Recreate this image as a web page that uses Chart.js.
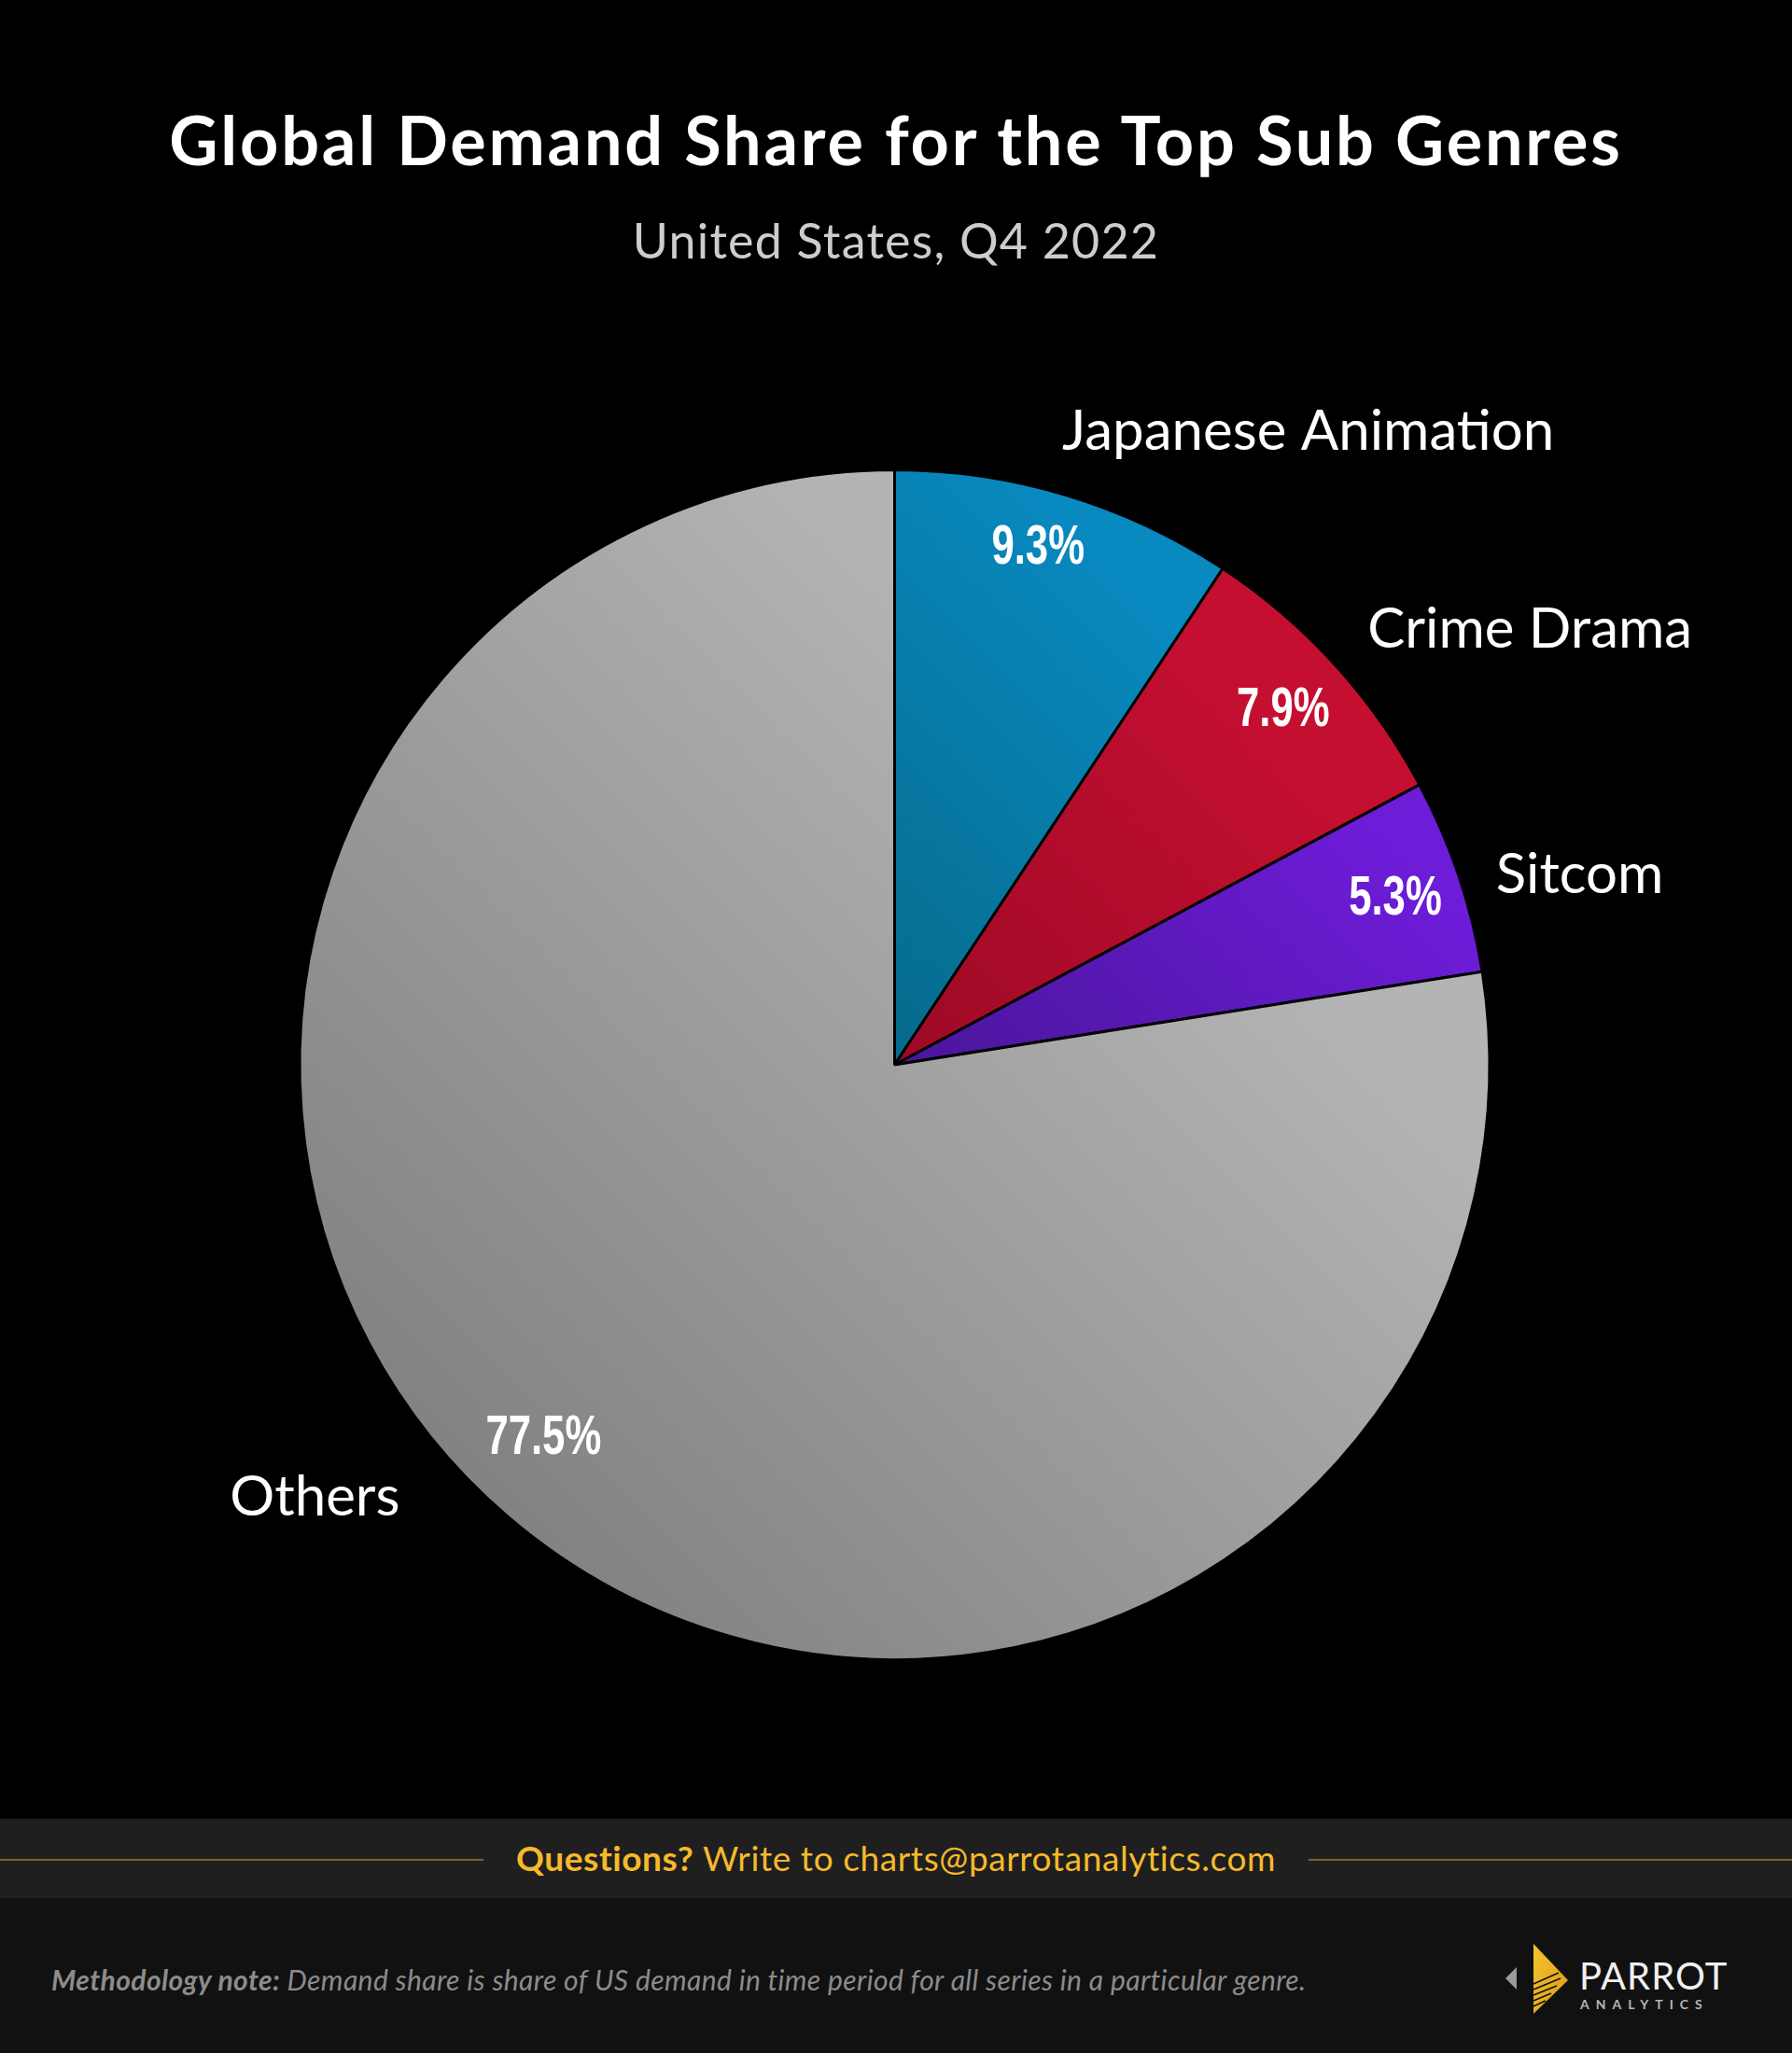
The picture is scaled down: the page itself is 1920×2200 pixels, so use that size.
<!DOCTYPE html>
<html>
<head>
<meta charset="utf-8">
<script src="https://cdn.jsdelivr.net/npm/chart.js@4.4.0/dist/chart.umd.min.js"></script>
<style>
  html, body { margin: 0; padding: 0; background: #000; }
  body { width: 1920px; height: 2200px; position: relative; overflow: hidden; font-family: Lato, "Open Sans", sans-serif; }
  #chartWrap { position: absolute; left: 0; top: 0; width: 1920px; height: 1949px; }
  #title { position: absolute; left: 0; width: 1920px; top: 104px; text-align: center; color: #fff; font-weight: 700; font-size: 72px; line-height: 90px; letter-spacing: 2.8px; }
  #subtitle { position: absolute; left: 0; width: 1920px; top: 226px; text-align: center; color: #cdcdcd; font-size: 52px; line-height: 62px; letter-spacing: 1.2px; }
  #band { position: absolute; left: 0; top: 1949px; width: 1920px; height: 85px; background: #1f1f1f; }
  .gline { position: absolute; top: 43px; height: 2px; background: #7a6228; }
  #q { position: absolute; left: 0; width: 1920px; top: 19px; text-align: center; color: #f6b92b; font-size: 37px; line-height: 46px; letter-spacing: 0.6px; }
  #bottom { position: absolute; left: 0; top: 2034px; width: 1920px; height: 166px; background: #111; }
  #note { position: absolute; left: 55px; top: 68px; color: #8c8c8c; font-style: italic; font-size: 30px; line-height: 38px; letter-spacing: 0.4px; }
  #logo { position: absolute; left: 1600px; top: 40px; }
</style>
</head>
<body>
<div id="chartWrap"><canvas id="c" width="1920" height="1949"></canvas></div>
<div id="title">Global Demand Share for the Top Sub Genres</div>
<div id="subtitle">United States, Q4 2022</div>
<div id="band">
  <div class="gline" style="left:0;width:518px"></div>
  <div class="gline" style="left:1402px;width:518px"></div>
  <div id="q"><b>Questions?</b> Write to charts@parrotanalytics.com</div>
</div>
<div id="bottom">
  <div id="note"><b>Methodology note:</b> Demand share is share of US demand in time period for all series in a particular genre.</div>
  <svg id="logo" width="260" height="90" viewBox="0 0 260 90">
    <defs>
      <linearGradient id="yg" x1="0" y1="0" x2="1" y2="1">
        <stop offset="0" stop-color="#f7c531"/>
        <stop offset="1" stop-color="#d99a12"/>
      </linearGradient>
    </defs>
    <polygon points="25,34 13,46 25,58" fill="#9a9a9a"/>
    <polygon points="43,9 80,48 43,84" fill="url(#yg)"/>
    <g stroke="#111" stroke-width="1.6">
      <line x1="43" y1="52" x2="70" y2="40"/>
      <line x1="43" y1="58" x2="72" y2="46"/>
      <line x1="43" y1="64" x2="68" y2="54"/>
      <line x1="43" y1="70" x2="62" y2="62"/>
      <line x1="43" y1="76" x2="56" y2="70"/>
    </g>
    <text x="92" y="58" fill="#f0f0f0" font-family="Lato, sans-serif" font-size="40" font-weight="400" letter-spacing="1">PARROT</text>
    <text x="93" y="79" fill="#b5b5b5" font-family="Lato, sans-serif" font-size="14" font-weight="700" letter-spacing="7">ANALYTICS</text>
  </svg>
</div>
<script>
// ---- data ----
const categories = ["Japanese Animation", "Crime Drama", "Sitcom", "Others"];
const shares = [9.3, 7.9, 5.3, 77.5];
const valueLabels = ["9.3%", "7.9%", "5.3%", "77.5%"];

// ---- styles ----
const innerColors = ["#066a8a", "#9c0a25", "#4a159a", "#828282"];
const outerColors = ["#0889bf", "#c40f31", "#6d1cd8", "#b4b4b4"];
const pctNudgeDeg = [-1.2, 0, 0.3, 2.7];
const pctRadius = [0.9, 0.883, 0.886, 0.862];
const nameNudgeDeg = [-1.9, -0.3, 1.0, 8.3];
const nameRadius = [1.1, 1.08, 1.06, 1.105];

function sliceGradient(context) {
  const chart = context.chart;
  const area = chart.chartArea;
  const i = context.dataIndex;
  if (!area) return outerColors[i];
  const cx = (area.left + area.right) / 2, cy = (area.top + area.bottom) / 2;
  const R = Math.min(area.right - area.left, area.bottom - area.top) / 2;
  const k = Math.SQRT1_2;
  let g;
  if (i === 3) {
    g = chart.ctx.createLinearGradient(cx - R * k, cy + R * k, cx + 0.6 * R * k, cy - 0.6 * R * k);
  } else {
    g = chart.ctx.createLinearGradient(cx, cy, cx + 0.85 * R * k, cy - 0.85 * R * k);
  }
  g.addColorStop(0, innerColors[i]);
  g.addColorStop(1, outerColors[i]);
  return g;
}

const labelPlugin = {
  id: 'sliceLabels',
  afterDatasetsDraw(chart) {
    const ctx = chart.ctx;
    const meta = chart.getDatasetMeta(0);
    meta.data.forEach((el, i) => {
      const p = el.getProps(['x', 'y', 'startAngle', 'endAngle', 'outerRadius'], true);
      const mid = (p.startAngle + p.endAngle) / 2;
      // percentage (condensed bold)
      const a1 = mid + pctNudgeDeg[i] * Math.PI / 180;
      const r1 = p.outerRadius * pctRadius[i];
      const px = p.x + Math.cos(a1) * r1, py = p.y + Math.sin(a1) * r1;
      ctx.save();
      ctx.translate(px, py);
      ctx.scale(0.74, 1);
      ctx.fillStyle = '#ffffff';
      ctx.font = 'bold 59px "Liberation Sans", Arial, sans-serif';
      ctx.textAlign = 'center';
      ctx.textBaseline = 'middle';
      ctx.fillText(valueLabels[i], 0, 0);
      ctx.restore();
      // category name
      const a2 = mid + nameNudgeDeg[i] * Math.PI / 180;
      const r2 = p.outerRadius * nameRadius[i];
      const nx = p.x + Math.cos(a2) * r2, ny = p.y + Math.sin(a2) * r2;
      ctx.save();
      ctx.fillStyle = '#ffffff';
      ctx.font = '60px Lato, "Open Sans", sans-serif';
      ctx.textAlign = Math.cos(a2) >= 0 ? 'left' : 'right';
      ctx.textBaseline = 'middle';
      ctx.fillText(categories[i], nx, ny);
      ctx.restore();
    });
  }
};

new Chart(document.getElementById('c'), {
  type: 'pie',
  data: {
    labels: categories,
    datasets: [{
      data: shares,
      backgroundColor: sliceGradient,
      borderColor: '#000000',
      borderWidth: 3,
      hoverOffset: 0
    }]
  },
  options: {
    responsive: false,
    devicePixelRatio: 1,
    animation: false,
    layout: { padding: { top: 502, bottom: 169, left: 0, right: 3 } },
    plugins: {
      legend: { display: false },
      tooltip: { enabled: false },
      title: { display: false }
    }
  },
  plugins: [labelPlugin]
});
</script>
</body>
</html>
